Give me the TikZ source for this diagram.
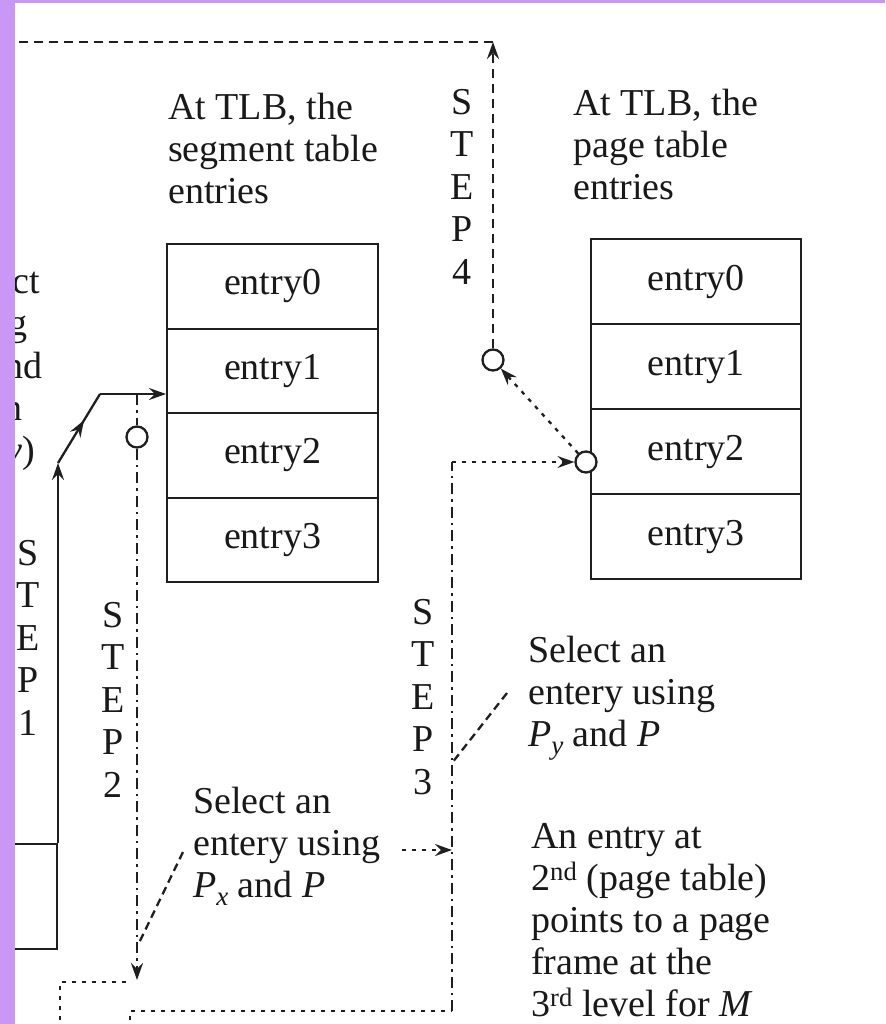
\documentclass[tikz,border=0pt]{standalone}
\usepackage{fontspec}
\setmainfont{Liberation Serif}
\usetikzlibrary{arrows.meta,decorations.markings}
\definecolor{lav}{RGB}{201,152,247}
\newcommand{\lowsub}[1]{\raisebox{-8pt}{\fontsize{27}{27}\selectfont\textit{#1}}}
\begin{document}
\begin{tikzpicture}[x=1pt,y=-1pt,
  every node/.style={font=\fontsize{38}{42}\selectfont, inner sep=0pt, text=black!90},
  ln/.style={line width=2.3pt,draw=black!88},
  tip/.style={-{Stealth[length=17pt,width=12pt,inset=6pt]}},
  dsh/.style={ln,dash pattern=on 9pt off 6pt},
  ddot/.style={ln,dash pattern=on 11pt off 5pt on 2.5pt off 5pt},
  dtt/.style={ln,dash pattern=on 4pt off 6pt},
  cdsh/.style={ln,dash pattern=on 8pt off 5pt},
  cellL/.style={draw,ln,minimum width=211pt,minimum height=84.5pt,anchor=north west},
  cellR/.style={draw,ln,minimum width=210pt,minimum height=85pt,anchor=north west},
  lbl/.style={align=left,anchor=base west},
  steplbl/.style={align=center,anchor=base,font=\fontsize{38}{42.5}\selectfont},
  ring/.style={draw,ln,circle,minimum size=21pt,inner sep=0pt,fill=white},
  midtip/.style={postaction={decorate},decoration={markings,mark=at position 0.62 with {\arrow{Stealth[length=17pt,width=12pt,inset=6pt]}}}},
]
\useasboundingbox (0,0) rectangle (885,1024);
\fill[white] (0,0) rectangle (885,1024);

% tables
\node[cellL] (a0) at (166,243) {entry0};
\node[cellL] (a1) at (166,327.5) {entry1};
\node[cellL] (a2) at (166,412) {entry2};
\node[cellL] (a3) at (166,496.5) {entry3};
\node[cellR] (b0) at (590,238) {entry0};
\node[cellR] (b1) at (590,323) {entry1};
\node[cellR] (b2) at (590,408) {entry2};
\node[cellR] (b3) at (590,493) {entry3};

% titles and notes (anchor = baseline of the last line)
\node[lbl] (ttl1) at (168,204) {At TLB, the\\segment table\\entries};
\node[lbl] (ttl2) at (573,200) {At TLB, the\\page table\\entries};
\node[lbl] (selx) at (193,897) {Select an\\entery using\\\textit{P}\lowsub{x} and \textit{P}};
\node[lbl] (sely) at (528,746) {Select an\\entery using\\\textit{P}\lowsub{y} and \textit{P}};
\node[lbl] (note) at (531,1016) {An entry at\\2\textsuperscript{nd} (page table)\\points to a page\\frame at the\\3\textsuperscript{rd} level for \textit{M}};

% step labels
\node[steplbl] (st1) at (28,735) {S\\T\\E\\P\\1};
\node[steplbl] (st2) at (113,797) {S\\T\\E\\P\\2};
\node[steplbl] (st3) at (423,794) {S\\T\\E\\P\\3};
\node[steplbl] (st4) at (462,284) {S\\T\\E\\P\\4};

% cut-off fragments at the left edge
\node[anchor=base east] (fr1) at (40,293) {ct};
\node[anchor=base east] (fr2) at (28,335) {g};
\node[anchor=base east] (fr3) at (43,378) {nd};
\node[anchor=base east] (fr4) at (23,420) {n};
\node[anchor=base east] (fr5) at (35,462) {\textit{y})};

% box at bottom left
\node[draw,ln,minimum width=100pt,minimum height=105pt,anchor=north east] (mem) at (58,843) {};

% circles
\node[ring] (c2) at (137,437) {};
\node[ring] (c4) at (493,360) {};
\node[ring] (c3) at (586,462) {};

% STEP 1
\coordinate (k1) at (58,463);
\coordinate (k2) at (100,394);
\draw[ln,tip] (mem.north east) -- (k1);
\draw[ln,midtip] (k1) -- (k2);
\draw[ln,tip] (k2) -- (a1.west |- k2);

% STEP 2
\coordinate (s2top) at (137,394);
\coordinate (s2end) at (137,980);
\draw[ddot] (s2top) -- (c2);
\draw[ddot,tip] (c2) -- (s2end);
\coordinate (q0) at (60,1030);
\coordinate (q1) at (60,982);
\coordinate (q2) at (130,982);
\draw[dtt] (q0) -- (q1) -- (q2);

% STEP 3
\coordinate (r0) at (130,1030);
\coordinate (r1) at (130,1011);
\coordinate (r2) at (452,1011);
\coordinate (r3) at (452,462);
\draw[dtt] (r0) -- (r1) -- (r2);
\draw[ddot] (r2) -- (r3);
\draw[dtt,tip] (r3) -- (c3);
\draw[dtt,tip] (c3) -- (c4);

% STEP 4
\coordinate (t1) at (493,42);
\coordinate (t0) at (-5,42);
\draw[dsh,tip] (c4) -- (t1);
\draw[dsh] (t1) -- (t0);

% callouts
\coordinate (p1) at (183,852);
\coordinate (p2) at (138,945);
\draw[cdsh] (p1) -- (p2);
\coordinate (u1) at (402,850);
\coordinate (u2) at (452,850);
\draw[dtt,tip] (u1) -- (u2);
\coordinate (v1) at (507,693);
\coordinate (v2) at (452,763);
\draw[cdsh] (v1) -- (v2);

% frame bands
\fill[lav] (0,0) rectangle (885,3);
\fill[lav] (0,0) rectangle (15,1024);
\end{tikzpicture}
\end{document}
